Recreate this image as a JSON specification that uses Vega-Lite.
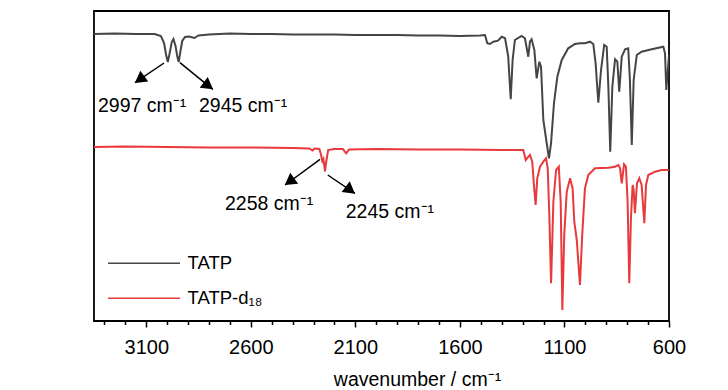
{
  "$schema": "https://vega.github.io/schema/vega-lite/v6.json",
  "width": 575,
  "height": 310,
  "autosize": {"type": "none"},
  "padding": {"left": 94, "top": 11, "right": 59, "bottom": 69},
  "background": "white",
  "config": {
    "view": {"stroke": "black", "strokeWidth": 1.8},
    "font": "Liberation Sans"
  },
  "datasets": {
    "spectra": [
      {"s": "TATP", "wn": 3350, "t": 287}, {"s": "TATP", "wn": 3250, "t": 287.5}, {"s": "TATP", "wn": 3150, "t": 287}, {"s": "TATP", "wn": 3060, "t": 287}, {"s": "TATP", "wn": 3030, "t": 285}, {"s": "TATP", "wn": 3015, "t": 278}, {"s": "TATP", "wn": 3005, "t": 266}, {"s": "TATP", "wn": 2997, "t": 259}, {"s": "TATP", "wn": 2988, "t": 268}, {"s": "TATP", "wn": 2978, "t": 279}, {"s": "TATP", "wn": 2970, "t": 282}, {"s": "TATP", "wn": 2960, "t": 275}, {"s": "TATP", "wn": 2952, "t": 265}, {"s": "TATP", "wn": 2945, "t": 259}, {"s": "TATP", "wn": 2938, "t": 268}, {"s": "TATP", "wn": 2928, "t": 280}, {"s": "TATP", "wn": 2915, "t": 284}, {"s": "TATP", "wn": 2895, "t": 284.5}, {"s": "TATP", "wn": 2870, "t": 283}, {"s": "TATP", "wn": 2850, "t": 285.5}, {"s": "TATP", "wn": 2800, "t": 286.5}, {"s": "TATP", "wn": 2700, "t": 287.5}, {"s": "TATP", "wn": 2600, "t": 287}, {"s": "TATP", "wn": 2500, "t": 287}, {"s": "TATP", "wn": 2400, "t": 286.5}, {"s": "TATP", "wn": 2300, "t": 286.5}, {"s": "TATP", "wn": 2200, "t": 286.5}, {"s": "TATP", "wn": 2100, "t": 286}, {"s": "TATP", "wn": 2000, "t": 286}, {"s": "TATP", "wn": 1900, "t": 286}, {"s": "TATP", "wn": 1800, "t": 285.5}, {"s": "TATP", "wn": 1700, "t": 285.5}, {"s": "TATP", "wn": 1600, "t": 285}, {"s": "TATP", "wn": 1504, "t": 285.5}, {"s": "TATP", "wn": 1480, "t": 286}, {"s": "TATP", "wn": 1469, "t": 277.7}, {"s": "TATP", "wn": 1456, "t": 277}, {"s": "TATP", "wn": 1440, "t": 279.3}, {"s": "TATP", "wn": 1418, "t": 280.3}, {"s": "TATP", "wn": 1400, "t": 284.3}, {"s": "TATP", "wn": 1384, "t": 282.7}, {"s": "TATP", "wn": 1369, "t": 264.3}, {"s": "TATP", "wn": 1357, "t": 221.7}, {"s": "TATP", "wn": 1348, "t": 261}, {"s": "TATP", "wn": 1337, "t": 281}, {"s": "TATP", "wn": 1305, "t": 285}, {"s": "TATP", "wn": 1289, "t": 282.7}, {"s": "TATP", "wn": 1273, "t": 264.3}, {"s": "TATP", "wn": 1265, "t": 279.3}, {"s": "TATP", "wn": 1257, "t": 281.7}, {"s": "TATP", "wn": 1244, "t": 271}, {"s": "TATP", "wn": 1233, "t": 242.7}, {"s": "TATP", "wn": 1220, "t": 259.3}, {"s": "TATP", "wn": 1212, "t": 254.3}, {"s": "TATP", "wn": 1201, "t": 201}, {"s": "TATP", "wn": 1185, "t": 178}, {"s": "TATP", "wn": 1174, "t": 162.7}, {"s": "TATP", "wn": 1164, "t": 178}, {"s": "TATP", "wn": 1150, "t": 218}, {"s": "TATP", "wn": 1134, "t": 244.3}, {"s": "TATP", "wn": 1113, "t": 261}, {"s": "TATP", "wn": 1082, "t": 272.7}, {"s": "TATP", "wn": 1050, "t": 277}, {"s": "TATP", "wn": 1026, "t": 277.7}, {"s": "TATP", "wn": 1002, "t": 277.7}, {"s": "TATP", "wn": 978, "t": 279.3}, {"s": "TATP", "wn": 962, "t": 277}, {"s": "TATP", "wn": 951, "t": 257.7}, {"s": "TATP", "wn": 938, "t": 218.3}, {"s": "TATP", "wn": 925, "t": 251}, {"s": "TATP", "wn": 910, "t": 276}, {"s": "TATP", "wn": 898, "t": 274.3}, {"s": "TATP", "wn": 890, "t": 234.3}, {"s": "TATP", "wn": 881, "t": 169.3}, {"s": "TATP", "wn": 871, "t": 234.3}, {"s": "TATP", "wn": 858, "t": 261.7}, {"s": "TATP", "wn": 847, "t": 259.3}, {"s": "TATP", "wn": 838, "t": 229.3}, {"s": "TATP", "wn": 826, "t": 264.3}, {"s": "TATP", "wn": 810, "t": 271.7}, {"s": "TATP", "wn": 795, "t": 272.7}, {"s": "TATP", "wn": 787, "t": 241}, {"s": "TATP", "wn": 778, "t": 176}, {"s": "TATP", "wn": 769, "t": 241}, {"s": "TATP", "wn": 754, "t": 266}, {"s": "TATP", "wn": 731, "t": 269.3}, {"s": "TATP", "wn": 683, "t": 271.7}, {"s": "TATP", "wn": 627, "t": 274.3}, {"s": "TATP", "wn": 619, "t": 267.7}, {"s": "TATP", "wn": 613, "t": 231}, {"s": "TATP", "wn": 603, "t": 257.7}, {"s": "TATP", "wn": 600, "t": 266},
      {"s": "TATP-d₁₈", "wn": 3350, "t": 174}, {"s": "TATP-d₁₈", "wn": 3200, "t": 174.5}, {"s": "TATP-d₁₈", "wn": 3000, "t": 174}, {"s": "TATP-d₁₈", "wn": 2800, "t": 173.5}, {"s": "TATP-d₁₈", "wn": 2600, "t": 173.5}, {"s": "TATP-d₁₈", "wn": 2400, "t": 173}, {"s": "TATP-d₁₈", "wn": 2320, "t": 172.5}, {"s": "TATP-d₁₈", "wn": 2305, "t": 170.5}, {"s": "TATP-d₁₈", "wn": 2295, "t": 172.5}, {"s": "TATP-d₁₈", "wn": 2272, "t": 172}, {"s": "TATP-d₁₈", "wn": 2264, "t": 166}, {"s": "TATP-d₁₈", "wn": 2258, "t": 160}, {"s": "TATP-d₁₈", "wn": 2253, "t": 162}, {"s": "TATP-d₁₈", "wn": 2245, "t": 149.5}, {"s": "TATP-d₁₈", "wn": 2239, "t": 160}, {"s": "TATP-d₁₈", "wn": 2230, "t": 171}, {"s": "TATP-d₁₈", "wn": 2200, "t": 172}, {"s": "TATP-d₁₈", "wn": 2160, "t": 172}, {"s": "TATP-d₁₈", "wn": 2144, "t": 167.7}, {"s": "TATP-d₁₈", "wn": 2130, "t": 171.5}, {"s": "TATP-d₁₈", "wn": 2000, "t": 172}, {"s": "TATP-d₁₈", "wn": 1800, "t": 171.5}, {"s": "TATP-d₁₈", "wn": 1600, "t": 171.5}, {"s": "TATP-d₁₈", "wn": 1400, "t": 171}, {"s": "TATP-d₁₈", "wn": 1297, "t": 171}, {"s": "TATP-d₁₈", "wn": 1285, "t": 161}, {"s": "TATP-d₁₈", "wn": 1276, "t": 163.3}, {"s": "TATP-d₁₈", "wn": 1265, "t": 166}, {"s": "TATP-d₁₈", "wn": 1254, "t": 159.3}, {"s": "TATP-d₁₈", "wn": 1246, "t": 136}, {"s": "TATP-d₁₈", "wn": 1238, "t": 116}, {"s": "TATP-d₁₈", "wn": 1230, "t": 142.7}, {"s": "TATP-d₁₈", "wn": 1217, "t": 154.3}, {"s": "TATP-d₁₈", "wn": 1201, "t": 159.3}, {"s": "TATP-d₁₈", "wn": 1188, "t": 162.7}, {"s": "TATP-d₁₈", "wn": 1180, "t": 152.7}, {"s": "TATP-d₁₈", "wn": 1172, "t": 102.7}, {"s": "TATP-d₁₈", "wn": 1164, "t": 37.7}, {"s": "TATP-d₁₈", "wn": 1153, "t": 119.3}, {"s": "TATP-d₁₈", "wn": 1140, "t": 151}, {"s": "TATP-d₁₈", "wn": 1127, "t": 154.3}, {"s": "TATP-d₁₈", "wn": 1118, "t": 119.3}, {"s": "TATP-d₁₈", "wn": 1110, "t": 11}, {"s": "TATP-d₁₈", "wn": 1101, "t": 86}, {"s": "TATP-d₁₈", "wn": 1089, "t": 129.3}, {"s": "TATP-d₁₈", "wn": 1073, "t": 142.7}, {"s": "TATP-d₁₈", "wn": 1061, "t": 132.7}, {"s": "TATP-d₁₈", "wn": 1053, "t": 99.3}, {"s": "TATP-d₁₈", "wn": 1041, "t": 81}, {"s": "TATP-d₁₈", "wn": 1026, "t": 36}, {"s": "TATP-d₁₈", "wn": 1015, "t": 86}, {"s": "TATP-d₁₈", "wn": 1002, "t": 132.7}, {"s": "TATP-d₁₈", "wn": 986, "t": 146}, {"s": "TATP-d₁₈", "wn": 954, "t": 152.7}, {"s": "TATP-d₁₈", "wn": 890, "t": 153.3}, {"s": "TATP-d₁₈", "wn": 858, "t": 154.3}, {"s": "TATP-d₁₈", "wn": 842, "t": 156}, {"s": "TATP-d₁₈", "wn": 834, "t": 152.7}, {"s": "TATP-d₁₈", "wn": 826, "t": 137.7}, {"s": "TATP-d₁₈", "wn": 815, "t": 156.7}, {"s": "TATP-d₁₈", "wn": 806, "t": 154.3}, {"s": "TATP-d₁₈", "wn": 798, "t": 119.3}, {"s": "TATP-d₁₈", "wn": 790, "t": 37.7}, {"s": "TATP-d₁₈", "wn": 782, "t": 102.7}, {"s": "TATP-d₁₈", "wn": 774, "t": 136}, {"s": "TATP-d₁₈", "wn": 769, "t": 131}, {"s": "TATP-d₁₈", "wn": 763, "t": 107.7}, {"s": "TATP-d₁₈", "wn": 753, "t": 137.7}, {"s": "TATP-d₁₈", "wn": 742, "t": 142.7}, {"s": "TATP-d₁₈", "wn": 731, "t": 136}, {"s": "TATP-d₁₈", "wn": 718, "t": 97.7}, {"s": "TATP-d₁₈", "wn": 710, "t": 136}, {"s": "TATP-d₁₈", "wn": 699, "t": 146}, {"s": "TATP-d₁₈", "wn": 667, "t": 149.3}, {"s": "TATP-d₁₈", "wn": 635, "t": 151}, {"s": "TATP-d₁₈", "wn": 611, "t": 151}, {"s": "TATP-d₁₈", "wn": 600, "t": 151}
    ],
    "arrows": [
      {"id": "a1", "wn": 3015, "t": 258}, {"id": "a1", "wn": 3154, "t": 238.3},
      {"id": "a2", "wn": 2939, "t": 258.3}, {"id": "a2", "wn": 2782, "t": 231.7},
      {"id": "a3", "wn": 2269, "t": 161.7}, {"id": "a3", "wn": 2436, "t": 136},
      {"id": "a4", "wn": 2232, "t": 146}, {"id": "a4", "wn": 2102, "t": 127.7}
    ],
    "heads": [
      {"dir": "left", "wn": 3132, "t": 241.5},
      {"dir": "right", "wn": 2803, "t": 235.2},
      {"dir": "left", "wn": 2415, "t": 139.3},
      {"dir": "right", "wn": 2124, "t": 130.8}
    ],
    "labels": [
      {"label": "2997 cm⁻¹", "wn": 3331, "t": 209.3},
      {"label": "2945 cm⁻¹", "wn": 2848, "t": 209.3},
      {"label": "2258 cm⁻¹", "wn": 2723.5, "t": 111},
      {"label": "2245 cm⁻¹", "wn": 2146, "t": 102.7}
    ]
  },
  "encoding": {
    "x": {
      "field": "wn",
      "type": "quantitative",
      "scale": {"domain": [600, 3350], "reverse": true, "nice": false, "zero": false},
      "axis": {
        "values": [3300, 3200, 3100, 3000, 2900, 2800, 2700, 2600, 2500, 2400, 2300, 2200, 2100, 2000, 1900, 1800, 1700, 1600, 1500, 1400, 1300, 1200, 1100, 1000, 900, 800, 700, 600],
        "labelExpr": "(3100 - datum.value) % 500 == 0 ? datum.label : ''",
        "format": "d",
        "title": "wavenumber / cm⁻¹",
        "domain": false,
        "grid": false,
        "tickColor": "black",
        "tickWidth": 1.5,
        "tickSize": {"condition": {"test": "(3100 - datum.value) % 500 == 0", "value": 6}, "value": 3.5},
        "labelFontSize": 20,
        "labelColor": "black",
        "labelPadding": 10.5,
        "labelFlush": false,
        "labelOverlap": false,
        "titleFontSize": 19.5,
        "titleFontWeight": "normal",
        "titleColor": "black",
        "titleX": 323,
        "titleY": 64,
        "titleBaseline": "alphabetic",
        "titleAlign": "center",
        "titleAnchor": null
      }
    },
    "y": {
      "field": "t",
      "type": "quantitative",
      "scale": {"domain": [0, 310], "nice": false, "zero": false},
      "axis": null
    }
  },
  "layer": [
    {
      "data": {"name": "spectra"},
      "mark": {"type": "line", "strokeWidth": 2, "clip": true},
      "encoding": {
        "color": {
          "field": "s",
          "type": "nominal",
          "scale": {"domain": ["TATP", "TATP-d₁₈"], "range": ["#454545", "#e8393c"]},
          "legend": {
            "orient": "none",
            "legendX": 12,
            "legendY": 243,
            "title": null,
            "symbolType": "M-1,0L9,0",
            "symbolSize": 207,
            "symbolStrokeWidth": 1.5,
            "labelFontSize": 18.5,
            "labelFont": "Liberation Sans",
            "labelColor": "black",
            "labelOffset": 63,
            "rowPadding": 16
          }
        }
      }
    },
    {
      "data": {"name": "arrows"},
      "mark": {"type": "line", "color": "black", "strokeWidth": 1.5},
      "encoding": {"detail": {"field": "id", "type": "nominal"}}
    },
    {
      "data": {"name": "heads"},
      "transform": [{"filter": "datum.dir == 'left'"}],
      "mark": {"type": "point", "shape": "triangle-up", "filled": true, "color": "black", "size": 180, "angle": 234, "opacity": 1}
    },
    {
      "data": {"name": "heads"},
      "transform": [{"filter": "datum.dir == 'right'"}],
      "mark": {"type": "point", "shape": "triangle-up", "filled": true, "color": "black", "size": 180, "angle": 127, "opacity": 1}
    },
    {
      "data": {"name": "labels"},
      "mark": {"type": "text", "align": "left", "baseline": "alphabetic", "fontSize": 19.5, "font": "Liberation Sans", "color": "black"},
      "encoding": {"text": {"field": "label"}}
    }
  ]
}
